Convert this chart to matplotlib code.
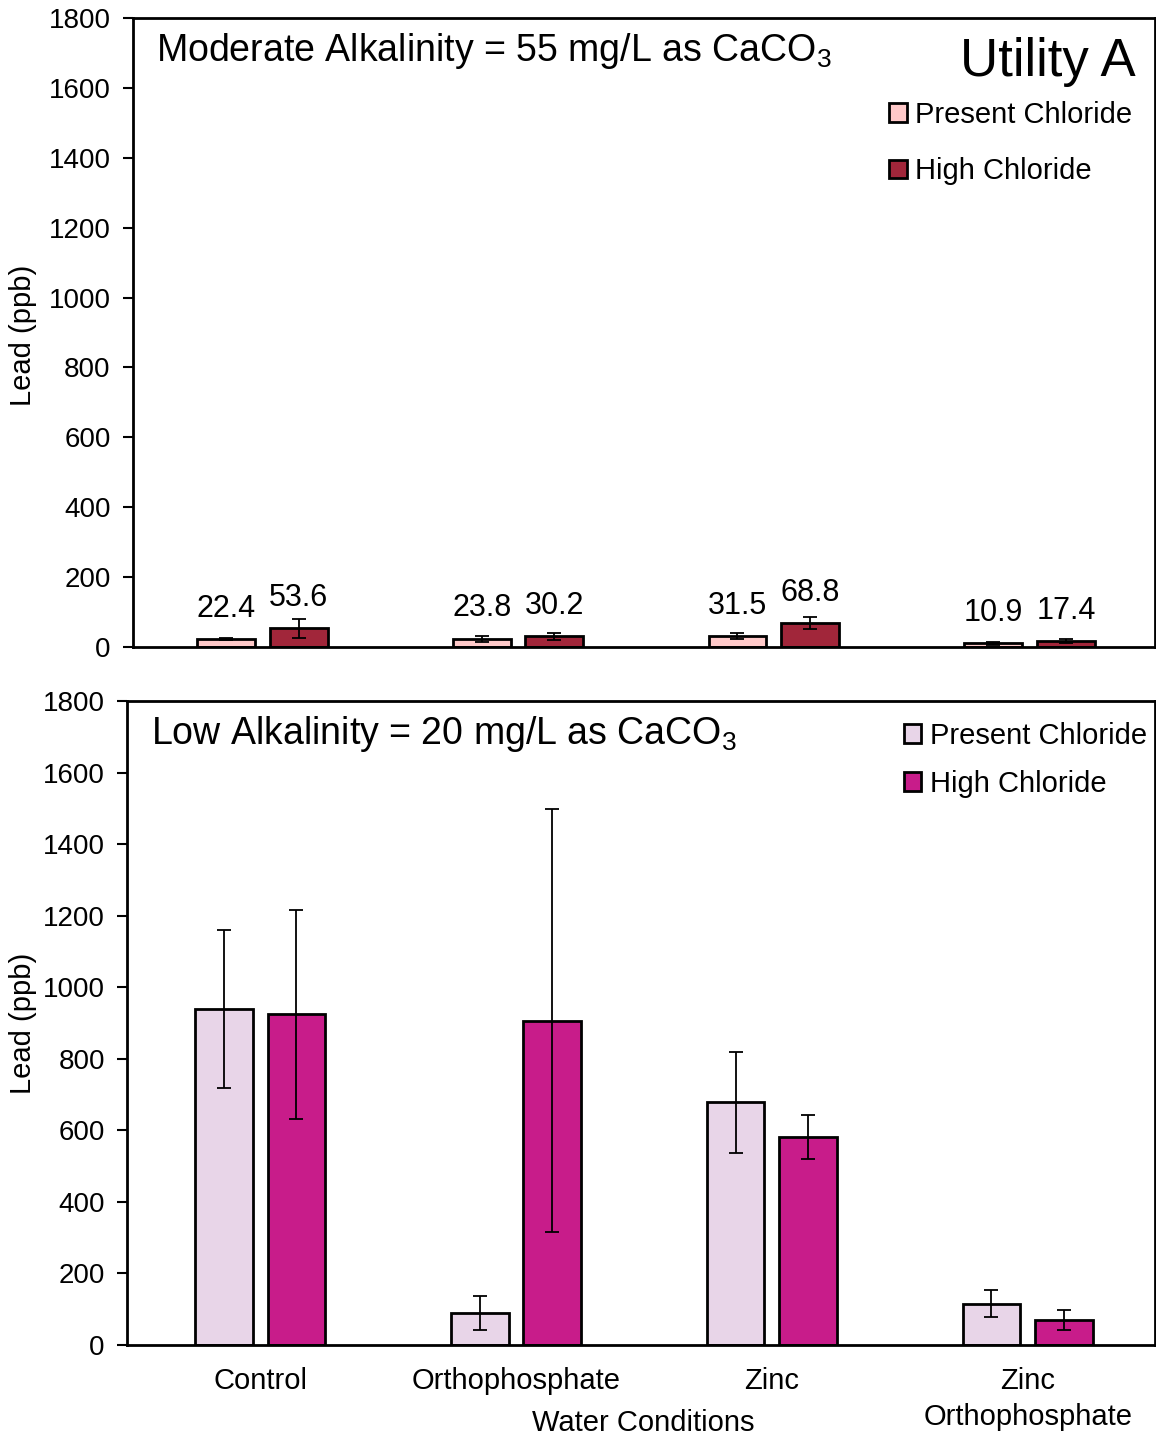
import numpy as np
import matplotlib

matplotlib.use("Agg")
import matplotlib.pyplot as plt
from matplotlib.patches import Patch

plt.rcParams["font.family"] = ["Liberation Sans", "DejaVu Sans"]
plt.rcParams["mathtext.fontset"] = "custom"
plt.rcParams["mathtext.rm"] = "Liberation Sans"
plt.rcParams["mathtext.it"] = "Liberation Sans:italic"

# data
conditions = ["Control", "Orthophosphate", "Zinc", "Zinc\nOrthophosphate"]
series_names = ["Present Chloride", "High Chloride"]

moderate_present = [22.4, 23.8, 31.5, 10.9]
moderate_high = [53.6, 30.2, 68.8, 17.4]
moderate_present_err = [3, 9, 9, 4]
moderate_high_err = [27, 9, 16, 6]

low_present = [939, 89, 679, 115]
low_high = [925, 906, 581, 70]
low_present_err = [220, 47, 141, 38]
low_high_err = [292, 591, 61, 28]

y_ticks = list(range(0, 1801, 200))

FS = 21
fig = plt.figure(figsize=(11.56, 14.39), dpi=100)
fig.patch.set_facecolor("white")

ax1 = fig.add_axes([0.115, 0.5504, 0.884, 0.4371])
ax2 = fig.add_axes([0.1099, 0.0653, 0.889, 0.4476])

x = np.arange(len(conditions))
offset = 0.142
width = 0.226


def draw_panel(ax, present, high, present_err, high_err, colors, title, labels):
    ax.bar(x - offset, present, width, color=colors[0], edgecolor="black", linewidth=2, zorder=2)
    ax.bar(x + offset, high, width, color=colors[1], edgecolor="black", linewidth=2, zorder=2)
    ax.errorbar(x - offset, present, yerr=present_err, fmt="none", ecolor="black", elinewidth=1.3,
                capsize=5, capthick=1.3, zorder=3)
    ax.errorbar(x + offset, high, yerr=high_err, fmt="none", ecolor="black", elinewidth=1.3,
                capsize=5, capthick=1.3, zorder=3)
    if labels:
        for xi, v in zip(x - offset, present):
            ax.annotate("{:.1f}".format(v), (xi, v), xytext=(0, 11), textcoords="offset points",
                        ha="center", va="bottom", fontsize=22)
        for xi, v in zip(x + offset, high):
            ax.annotate("{:.1f}".format(v), (xi, v), xytext=(0, 11), textcoords="offset points",
                        ha="center", va="bottom", fontsize=22)
    ax.set_ylim(0, 1800)
    ax.set_yticks(y_ticks)
    ax.tick_params(axis="y", labelsize=20, length=7, width=1.5, direction="out", pad=9)
    ax.tick_params(axis="x", length=0)
    for s in ax.spines.values():
        s.set_linewidth(2)
    ax.set_ylabel("Lead (ppb)", fontsize=FS)
    ax.text(0.023, 0.948, title, transform=ax.transAxes, fontsize=27, ha="left", va="center")


draw_panel(ax1, moderate_present, moderate_high, moderate_present_err, moderate_high_err,
           ["#FFC9C9", "#A1263A"], "Moderate Alkalinity = 55 mg/L as CaCO$_3$", True)
ax1.set_xlim(-0.506, 3.49)
ax1.set_xticks(x)
ax1.set_xticklabels([])
ax1.yaxis.set_label_coords(-0.094, 0.496)
ax1.text(0.981, 0.93, "Utility A", transform=ax1.transAxes, fontsize=38, ha="right", va="center")
h1 = [Patch(facecolor=c, edgecolor="black", linewidth=2) for c in ["#FFC9C9", "#A1263A"]]
ax1.legend(h1, series_names, loc="upper left", bbox_to_anchor=(0.74, 0.868), frameon=False,
           fontsize=FS, handlelength=0.6, handleheight=0.6, handletextpad=0.3, labelspacing=0.97,
           borderaxespad=0, borderpad=0)

draw_panel(ax2, low_present, low_high, low_present_err, low_high_err,
           ["#E8D5E8", "#C81C8A"], "Low Alkalinity = 20 mg/L as CaCO$_3$", False)
ax2.set_xlim(-0.52, 3.496)
ax2.set_xticks(x)
ax2.set_xticklabels(conditions, fontsize=FS, linespacing=1.36)
ax2.tick_params(axis="x", pad=16)
ax2.yaxis.set_label_coords(-0.0875, 0.5)
ax2.set_xlabel("Water Conditions", fontsize=FS)
ax2.xaxis.set_label_coords(0.502, -0.1)
h2 = [Patch(facecolor=c, edgecolor="black", linewidth=2) for c in ["#E8D5E8", "#C81C8A"]]
ax2.legend(h2, series_names, loc="upper left", bbox_to_anchor=(0.756, 0.968), frameon=False,
           fontsize=FS, handlelength=0.6, handleheight=0.6, handletextpad=0.3, labelspacing=0.7,
           borderaxespad=0, borderpad=0)

fig.savefig("out.png", dpi=100)
